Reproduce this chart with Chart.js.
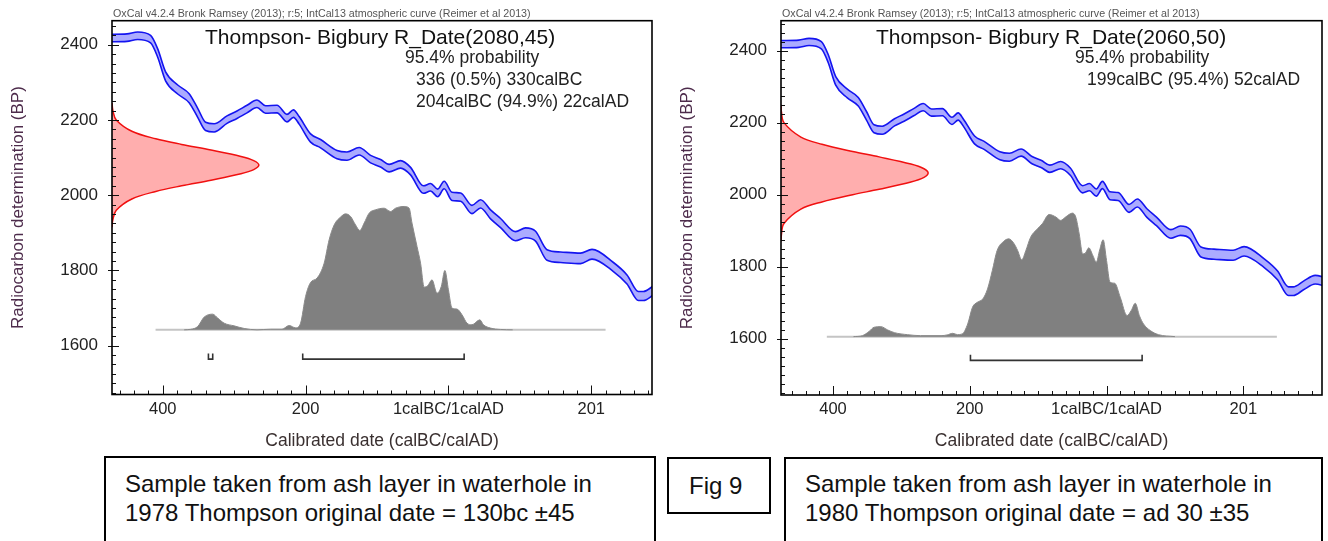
<!DOCTYPE html>
<html>
<head>
<meta charset="utf-8">
<script src="https://cdn.jsdelivr.net/npm/chart.js@4.4.1/dist/chart.umd.min.js"></script>
<style>
  body { margin: 0; width: 1328px; height: 541px; background: #fff; position: relative; overflow: hidden;
         font-family: Arial, "Liberation Sans", sans-serif; color: #111; }
  .plot { position: absolute; top: 0; width: 660px; height: 455px; }
  .t { position: absolute; white-space: nowrap; line-height: 1; }
  .hdr { font-size: 10.7px; color: #555; }
  .ttl { font-size: 21px; }
  .prob { font-size: 17.5px; color: #222; }
  .box { position: absolute; border: 2px solid #000; box-sizing: border-box; }
  .box .t { font-size: 24px; color: #111; }
</style>
</head>
<body>

<div class="plot" style="left:0"><canvas id="leftChart"></canvas></div>
<div class="plot" style="left:668px"><canvas id="rightChart"></canvas></div>

<div class="t hdr" style="left:113px;top:8px">OxCal v4.2.4 Bronk Ramsey (2013); r:5; IntCal13 atmospheric curve (Reimer et al 2013)</div>
<div class="t ttl" style="left:205px;top:26px">Thompson- Bigbury R_Date(2080,45)</div>
<div class="t prob" style="left:405px;top:49px">95.4% probability</div>
<div class="t prob" style="left:416px;top:71px">336 (0.5%) 330calBC</div>
<div class="t prob" style="left:416px;top:93px">204calBC (94.9%) 22calAD</div>

<div class="t hdr" style="left:782px;top:8px">OxCal v4.2.4 Bronk Ramsey (2013); r:5; IntCal13 atmospheric curve (Reimer et al 2013)</div>
<div class="t ttl" style="left:876px;top:26px">Thompson- Bigbury R_Date(2060,50)</div>
<div class="t prob" style="left:1075px;top:49px">95.4% probability</div>
<div class="t prob" style="left:1087px;top:71px">199calBC (95.4%) 52calAD</div>

<div class="box" style="left:104px;top:456px;width:552px;height:120px">
  <div class="t" style="left:19px;top:14px">Sample taken from ash layer in waterhole in</div>
  <div class="t" style="left:19px;top:43px">1978 Thompson original date = 130bc ±45</div>
</div>
<div class="box" style="left:667px;top:457px;width:104px;height:57px">
  <div class="t" style="left:20px;top:15px">Fig 9</div>
</div>
<div class="box" style="left:784px;top:457px;width:539px;height:120px">
  <div class="t" style="left:19px;top:13px">Sample taken from ash layer in waterhole in</div>
  <div class="t" style="left:19px;top:42px">1980 Thompson original date = ad 30 ±35</div>
</div>

<script>
// === DATA ===

// IntCal13 curve as drawn (year: BC negative, 1calBC/1calAD = 0), BP and 1 sigma
const curveYear = [-485, -468, -450, -435, -417, -407, -396, -379, -363, -351, -340, -328, -310, -296, -282, -268, -256, -240, -226, -217,
                   -209, -193, -179, -156, -142, -125, -109, -95, -83, -67, -53, -35, -25, -15, -6, 5, 17, 33, 45, 59,
                   73, 94, 108, 122, 138, 157, 185, 201, 231, 250, 266, 273, 288, 305, 320];
const curveBP = [2418, 2418, 2419, 2424, 2415, 2378, 2316, 2281, 2258, 2219, 2183, 2179, 2201, 2214, 2229, 2243, 2228, 2229, 2205, 2217,
                 2199, 2152, 2137, 2108, 2104, 2117, 2096, 2085, 2072, 2082, 2064, 2015, 2021, 2006, 2027, 1997, 1995, 1962, 1977, 1949,
                 1926, 1891, 1900, 1891, 1841, 1835, 1832, 1843, 1809, 1776, 1732, 1732, 1748, 1764, 1758];
const curveErr = [10, 10, 10, 10, 10, 11, 12, 12, 12, 12, 11, 11, 10, 10, 10, 10, 10, 10, 10, 10,
                  10, 11, 11, 11, 11, 10, 10, 10, 10, 10, 10, 10, 10, 10, 10, 11, 11, 11, 11, 12,
                  12, 12, 13, 13, 14, 14, 14, 13, 12, 12, 12, 12, 12, 12, 12];

// left: R_Date(2080,45)
const leftLikeBP = [2245, 2225, 2200, 2170, 2150, 2135, 2120, 2103, 2092, 2080, 2068, 2057, 2040, 2025, 2010, 1990, 1960, 1935, 1915];
const leftLikeProb = [0, 0.006, 0.029, 0.135, 0.298, 0.474, 0.674, 0.878, 0.965, 1, 0.965, 0.878, 0.674, 0.474, 0.298, 0.135, 0.029, 0.006, 0];
const leftPostYear = [-370, -361, -351, -342, -330, -323, -314, -300, -286, -268, -249, -233, -223, -214, -207, -200, -193, -184, -174, -167,
                      -160, -151, -144, -137, -130, -124, -118, -111, -102, -90, -81, -74, -62, -55, -51, -44, -39, -34, -29, -23,
                      -16, -10, -5, 0, 5, 12, 19, 26, 33, 44, 49, 59, 73, 90];
const leftPostProb = [0, 0.004, 0.027, 0.103, 0.127, 0.095, 0.054, 0.032, 0.011, 0, 0.005, 0.005, 0.035, 0.016, 0.054, 0.27, 0.384, 0.419, 0.54, 0.73,
                      0.85, 0.914, 0.94, 0.919, 0.85, 0.805, 0.865, 0.946, 0.973, 0.986, 0.959, 0.986, 1, 0.986, 0.865, 0.676, 0.54, 0.346, 0.357, 0.405,
                      0.297, 0.351, 0.481, 0.324, 0.176, 0.168, 0.122, 0.054, 0.041, 0.081, 0.041, 0.014, 0.003, 0];
const leftRanges = [[-336, -330], [-204, 22]];

// right: R_Date(2060,50)
const rightLikeBP = [2250, 2230, 2200, 2160, 2140, 2120, 2105, 2085, 2072, 2060, 2048, 2035, 2015, 2000, 1980, 1960, 1920, 1890, 1870];
const rightLikeProb = [0, 0.003, 0.02, 0.135, 0.278, 0.487, 0.667, 0.883, 0.972, 1, 0.972, 0.883, 0.667, 0.487, 0.278, 0.135, 0.02, 0.003, 0];
const rightPostYear = [-370, -357, -347, -340, -330, -320, -310, -291, -272, -242, -233, -225, -218, -211, -203, -196, -189, -181, -174, -167,
                       -160, -150, -143, -135, -130, -124, -118, -111, -101, -94, -84, -74, -67, -60, -50, -45, -40, -35, -31, -26,
                       -20, -15, -10, -5, 0, 5, 12, 20, 30, 36, 42, 48, 54, 64, 76, 100];
const rightPostProb = [0, 0.008, 0.043, 0.076, 0.081, 0.054, 0.032, 0.016, 0.008, 0.008, 0.014, 0.027, 0.016, 0.022, 0.103, 0.238, 0.278, 0.305, 0.386, 0.535,
                       0.697, 0.773, 0.792, 0.751, 0.697, 0.622, 0.697, 0.805, 0.873, 0.914, 0.989, 0.968, 0.941, 0.968, 1, 0.968, 0.832, 0.67, 0.676, 0.719,
                       0.657, 0.603, 0.703, 0.784, 0.616, 0.441, 0.432, 0.319, 0.17, 0.211, 0.27, 0.17, 0.103, 0.049, 0.016, 0];
const rightRanges = [[-199, 52]];

// axis labels
const xTickValues = [-400, -200, 0, 200];
const xTickLabels = ['400', '200', '1calBC/1calAD', '201'];
const yTickValues = [1600, 1800, 2000, 2200, 2400];

// === DRAWING ===

const RED_SCALE = 0.272;   // peak of likelihood, share of x range
const GREY_SCALE = 0.33;   // peak of posterior, share of y range

// inward tick marks + box frame, as OxCal draws them
const oxFrame = {
    id: 'oxFrame',
    afterDraw(chart) {
        const { ctx, chartArea: a, scales: { x, y } } = chart;
        ctx.save();
        ctx.strokeStyle = '#111';
        ctx.lineWidth = 1;
        x.ticks.forEach(t => {
            const px = Math.round(x.getPixelForValue(t.value)) + 0.5;
            const major = t.value % 200 === 0;
            ctx.beginPath(); ctx.moveTo(px, a.bottom); ctx.lineTo(px, a.bottom - (major ? 9 : 4)); ctx.stroke();
        });
        y.ticks.forEach(t => {
            const py = Math.round(y.getPixelForValue(t.value)) + 0.5;
            const major = t.value % 200 === 0;
            ctx.beginPath(); ctx.moveTo(a.left - (major ? 4 : 0), py); ctx.lineTo(a.left + (major ? 7 : 4), py); ctx.stroke();
        });
        ctx.lineWidth = 1.6;
        ctx.strokeStyle = '#000';
        ctx.strokeRect(a.left, a.top, a.right - a.left, a.bottom - a.top);
        ctx.restore();
    }
};

function makeChart(id, o) {
    const ctx = document.getElementById(id).getContext('2d');
    const redW = RED_SCALE * (o.xMax - o.xMin);
    const greyH = GREY_SCALE * (o.yMax - o.yMin);

    const upper = curveYear.map((t, i) => ({ x: t, y: curveBP[i] + curveErr[i] }));
    const lower = curveYear.map((t, i) => ({ x: t, y: curveBP[i] - curveErr[i] }));
    const like = o.likeBP.map((b, i) => ({ x: o.xMin + o.likeProb[i] * redW, y: b }));
    const post = o.postYear.map((t, i) => ({ x: t, y: o.baseBP + o.postProb[i] * greyH }));
    const bars = [];
    o.ranges.forEach(r => {
        bars.push({ x: r[0], y: o.barTopBP }, { x: r[0], y: o.barBP }, { x: r[1], y: o.barBP }, { x: r[1], y: o.barTopBP }, { x: r[1], y: null });
    });

    return new Chart(ctx, {
        type: 'scatter',
        data: {
            datasets: [
                { data: bars, showLine: true, borderColor: '#333', borderWidth: 1.6, pointRadius: 0, tension: 0, spanGaps: false, order: 0 },
                { data: upper, showLine: true, borderColor: '#1414f0', borderWidth: 1.6, pointRadius: 0, cubicInterpolationMode: 'monotone', fill: false, order: 1 },
                { data: lower, showLine: true, borderColor: '#1414f0', borderWidth: 1.6, pointRadius: 0, cubicInterpolationMode: 'monotone',
                  fill: '-1', backgroundColor: 'rgba(120,120,255,0.62)', order: 1 },
                { data: like, showLine: true, borderColor: '#f01010', borderWidth: 1.5, pointRadius: 0, tension: 0.35,
                  fill: 'shape', backgroundColor: 'rgba(255,140,140,0.7)', order: 2 },
                { data: post, showLine: true, borderColor: '#8a8a8a', borderWidth: 1, pointRadius: 0, cubicInterpolationMode: 'monotone',
                  fill: { value: o.baseBP }, backgroundColor: '#808080', order: 5 },
                { data: [{ x: o.baseFrom, y: o.baseBP }, { x: o.baseTo, y: o.baseBP }], showLine: true, borderColor: '#c4c4c4', borderWidth: 2, pointRadius: 0, order: 10 }
            ]
        },
        options: {
            responsive: true, maintainAspectRatio: false, animation: false, devicePixelRatio: 1,
            layout: { padding: { left: o.padLeft, right: o.padRight, top: 20.7, bottom: 3 } },
            plugins: { legend: { display: false }, tooltip: { enabled: false } },
            scales: {
                x: {
                    type: 'linear', min: o.xMin, max: o.xMax,
                    grid: { display: false }, border: { display: false },
                    ticks: {
                        stepSize: 20, autoSkip: false, maxRotation: 0, includeBounds: false, padding: -3,
                        color: '#222', font: { size: 16.5, family: 'Arial, "Liberation Sans", sans-serif' },
                        callback: v => { const i = xTickValues.indexOf(v); return i >= 0 ? xTickLabels[i] : ''; }
                    },
                    title: { display: true, text: 'Calibrated date (calBC/calAD)', color: '#3a3030',
                             font: { size: 17.5, family: 'Arial, "Liberation Sans", sans-serif' }, padding: { top: 0, bottom: 0 } },
                    afterFit: s => { s.height = o.xAxisH; }
                },
                y: {
                    type: 'linear', min: o.yMin, max: o.yMax,
                    grid: { display: false }, border: { display: false },
                    ticks: {
                        stepSize: 25, autoSkip: false, includeBounds: false, padding: 6,
                        color: '#222', font: { size: 17, family: 'Arial, "Liberation Sans", sans-serif' },
                        callback: v => yTickValues.includes(v) ? String(v) : ''
                    },
                    title: { display: true, text: 'Radiocarbon determination (BP)', color: '#4d2b4b',
                             font: { size: 17, family: 'Arial, "Liberation Sans", sans-serif' }, padding: { top: 0, bottom: 0 } },
                    afterFit: s => { s.width = 104; }
                }
            }
        },
        plugins: [oxFrame]
    });
}

makeChart('leftChart', {
    xMin: -471, xMax: 285, yMin: 1470, yMax: 2464,
    padLeft: 8, padRight: 8, xAxisH: 57.5,
    likeBP: leftLikeBP, likeProb: leftLikeProb,
    postYear: leftPostYear, postProb: leftPostProb,
    ranges: leftRanges,
    baseBP: 1642, baseFrom: -410, baseTo: 220, barBP: 1564, barTopBP: 1579
});

makeChart('rightChart', {
    xMin: -476, xMax: 315, yMin: 1444, yMax: 2483,
    padLeft: 9, padRight: 6, xAxisH: 57,
    likeBP: rightLikeBP, likeProb: rightLikeProb,
    postYear: rightPostYear, postProb: rightPostProb,
    ranges: rightRanges,
    baseBP: 1606, baseFrom: -409, baseTo: 249, barBP: 1540, barTopBP: 1556
});
</script>
</body>
</html>
